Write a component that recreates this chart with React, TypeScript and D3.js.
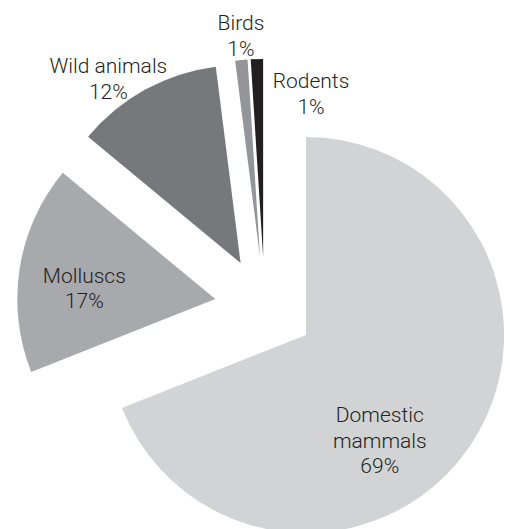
import React from "react";
import * as d3 from "d3";

const categories = ["Domestic mammals", "Molluscs", "Wild animals", "Birds", "Rodents"];
const values = [69, 17, 12, 1, 1];
const labelLines = [["Domestic", "mammals", "69%"], ["Molluscs", "17%"], ["Wild animals", "12%"], ["Birds", "1%"], ["Rodents", "1%"]];
const colors = ["#d1d3d4", "#a7a9ac", "#77787b", "#939598", "#231f20"];
// label anchor (first baseline), polar: degrees clockwise from top, radius from pie centre
const labelAngles = [135.05, 277.6, 326.2, 355.1, 11.96];
const labelRadii = [162.9, 182.0, 281.1, 277.9, 223.4];

const W = 510;
const H = 529;
const CX = 264.7;
const CY = 306.9;
const R = 198;
const EXPLODE = 50;
const LINE_H = 25.5;

export default function App() {
  const pie = d3.pie<number>().sort(null).value((d) => d);
  const arcs = pie(values);
  const arcGen = d3.arc<d3.PieArcDatum<number>>().innerRadius(0).outerRadius(R);

  return (
    <svg width={W} height={H} style={{ position: "absolute", left: 0, top: 0, background: "#fff" }}>
      <g transform={`translate(${CX},${CY})`}>
        {arcs.map((a, i) => {
          const mid = (a.startAngle + a.endAngle) / 2;
          const [ox, oy] = d3.pointRadial(mid, EXPLODE);
          return (
            <path key={categories[i]} d={arcGen(a) || ""} fill={colors[i]} transform={`translate(${ox},${oy})`} />
          );
        })}
        {labelLines.map((lines, i) => {
          const [lx, ly] = d3.pointRadial((labelAngles[i] * Math.PI) / 180, labelRadii[i]);
          return (
            <text
              key={"l" + i}
              x={lx}
              y={ly}
              textAnchor="middle"
              fontFamily="Roboto, sans-serif"
              fontWeight={300}
              fontSize={21}
              fill="#231f20"
            >
              {lines.map((t, j) => (
                <tspan key={j} x={lx} y={ly + j * LINE_H}>
                  {t}
                </tspan>
              ))}
            </text>
          );
        })}
      </g>
    </svg>
  );
}
